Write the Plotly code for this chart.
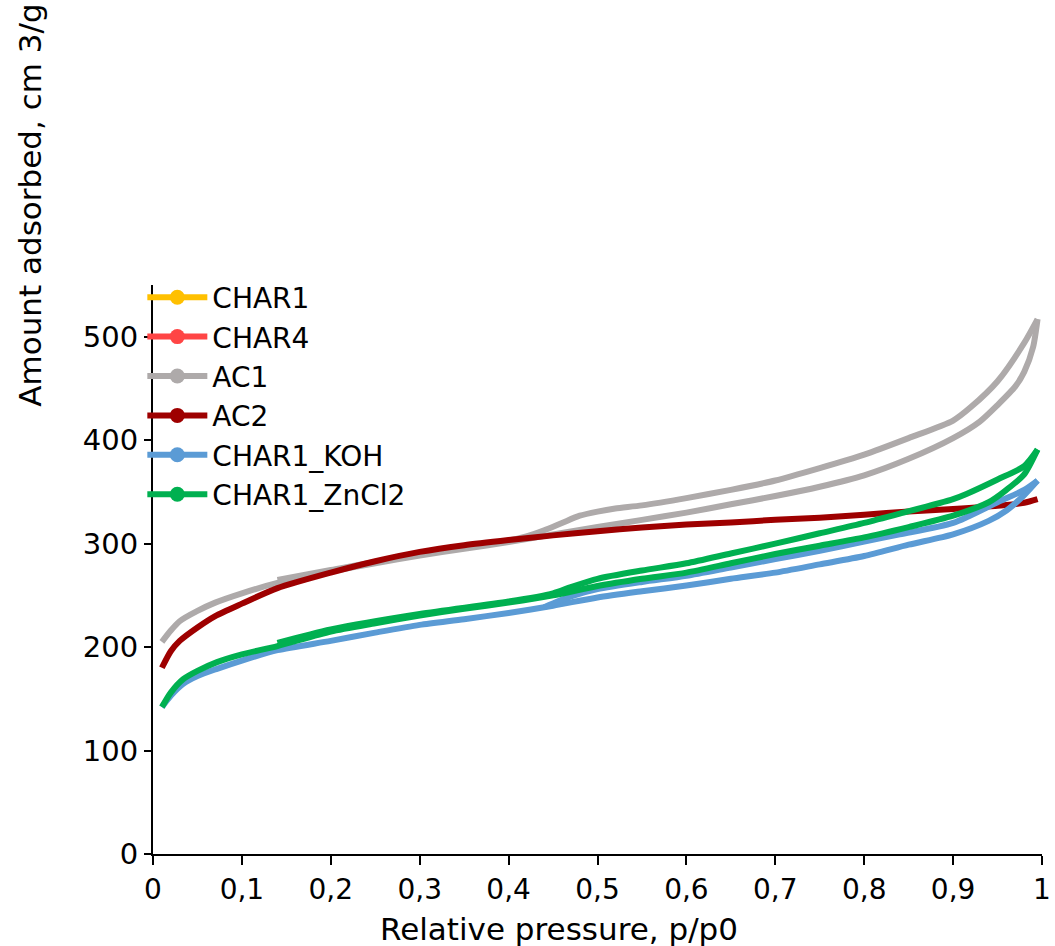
import plotly.graph_objects as go

# ---------------- data ----------------
series_names = ["CHAR1", "CHAR4", "AC1", "AC2", "CHAR1_KOH", "CHAR1_ZnCl2"]
series_colors = ["#FFC000", "#FF4545", "#AEAAAA", "#9E0000", "#5B9BD5", "#00B050"]

# AC1 adsorption / desorption
ac1_ads_x = [0.01, 0.02, 0.03, 0.05, 0.07, 0.10, 0.14, 0.20, 0.25, 0.30, 0.35, 0.40, 0.45, 0.50,
             0.55, 0.60, 0.65, 0.70, 0.75, 0.80, 0.85, 0.90, 0.93, 0.95, 0.97, 0.98, 0.99, 0.995]
ac1_ads_y = [205, 216, 225, 235, 243, 252, 262, 273, 281, 288.5, 295, 301.5, 309, 316,
             323, 330, 338, 346, 355, 366, 382, 402, 418, 434, 452, 466, 490, 517]
ac1_des_x = [0.995, 0.98, 0.95, 0.92, 0.90, 0.85, 0.80, 0.75, 0.70, 0.65, 0.60, 0.55, 0.52,
             0.50, 0.48, 0.46, 0.44, 0.42, 0.40, 0.30, 0.20, 0.14]
ac1_des_y = [517, 494, 457, 432, 419, 402, 386, 373, 361, 352, 344, 337, 334,
             331, 327, 320, 313, 307, 303, 290, 274.5, 265]

# AC2
ac2_x = [0.01, 0.02, 0.03, 0.05, 0.07, 0.10, 0.14, 0.20, 0.25, 0.30, 0.35, 0.40, 0.45, 0.50,
         0.55, 0.60, 0.65, 0.70, 0.75, 0.80, 0.85, 0.90, 0.95, 0.98, 0.995]
ac2_y = [180, 196, 206, 219, 230, 242, 257, 272, 283, 292, 298.5, 303.5, 308, 312,
         315.5, 318.5, 320.5, 323, 325, 328, 331, 333.5, 336.5, 339.5, 343]

# CHAR1_KOH
koh_ads_x = [0.01, 0.02, 0.034, 0.05, 0.072, 0.10, 0.14, 0.20, 0.25, 0.30, 0.35, 0.40, 0.45, 0.50,
             0.55, 0.60, 0.65, 0.70, 0.75, 0.80, 0.85, 0.90, 0.94, 0.96, 0.98, 0.995]
koh_ads_y = [142, 153, 164.5, 172, 179, 187, 197, 206, 214, 221.5, 227, 233, 240, 248,
             254, 259.5, 266, 272, 280, 288, 299, 309, 322, 332, 347, 361]
koh_des_x = [0.995, 0.98, 0.95, 0.90, 0.84, 0.80, 0.75, 0.70, 0.65, 0.60, 0.55, 0.50, 0.47, 0.44]
koh_des_y = [361, 352, 340, 320, 309, 302, 293, 285, 277, 269, 263, 256, 249, 238.5]

# CHAR1_ZnCl2
zn_ads_x = [0.01, 0.02, 0.034, 0.05, 0.072, 0.10, 0.14, 0.20, 0.25, 0.30, 0.35, 0.40, 0.45, 0.50,
            0.55, 0.60, 0.65, 0.70, 0.75, 0.80, 0.85, 0.90, 0.94, 0.96, 0.98, 0.995]
zn_ads_y = [142, 156, 169, 177, 185.5, 193, 201, 215, 223, 230.5, 237, 243, 250, 259,
            266, 272, 281, 290, 298, 306, 316, 327, 340, 352, 367, 391]
zn_des_x = [0.995, 0.98, 0.95, 0.915, 0.90, 0.84, 0.80, 0.75, 0.70, 0.65, 0.60, 0.55, 0.50,
            0.47, 0.45, 0.40, 0.30, 0.20, 0.14]
zn_des_y = [391, 375, 362, 348, 343, 329, 320, 310, 300, 290.5, 281, 274, 266,
            258, 252, 244, 232, 217, 204]

x_tick_vals = [0, 0.1, 0.2, 0.3, 0.4, 0.5, 0.6, 0.7, 0.8, 0.9, 1]
x_tick_text = ["0", "0,1", "0,2", "0,3", "0,4", "0,5", "0,6", "0,7", "0,8", "0,9", "1"]
y_tick_vals = [0, 100, 200, 300, 400, 500]
y_tick_text = ["0", "100", "200", "300", "400", "500"]

x_title = "Relative pressure, p/p0"
y_title = "Amount adsorbed, cm 3/g"

# ---------------- figure ----------------
FONT = "DejaVu Sans"
LW = 6
fig = go.Figure()

curves = {
    "AC1": [(ac1_ads_x, ac1_ads_y), (ac1_des_x, ac1_des_y)],
    "AC2": [(ac2_x, ac2_y)],
    "CHAR1_KOH": [(koh_ads_x, koh_ads_y), (koh_des_x, koh_des_y)],
    "CHAR1_ZnCl2": [(zn_ads_x, zn_ads_y), (zn_des_x, zn_des_y)],
}

for name, color in zip(series_names, series_colors):
    for xs, ys in curves.get(name, []):
        fig.add_trace(go.Scatter(x=xs, y=ys, mode="lines",
                                 line=dict(color=color, width=LW, shape="spline", smoothing=0.7),
                                 showlegend=False, legendgroup=name, hoverinfo="skip"))

# legend entries (line + circle marker)
for name, color in zip(series_names, series_colors):
    fig.add_trace(go.Scatter(x=[None], y=[None], mode="lines+markers", name=name,
                             legendgroup=name,
                             line=dict(color=color, width=LW),
                             marker=dict(color=color, size=15, symbol="circle")))

fig.update_layout(
    width=1055, height=946,
    margin=dict(l=153, r=13, t=285, b=92, autoexpand=False),
    paper_bgcolor="white", plot_bgcolor="white",
    font=dict(family=FONT, size=26, color="#000000"),
    showlegend=True,
    legend=dict(x=-0.012, y=1.022, xanchor="left", yanchor="top",
                bgcolor="rgba(0,0,0,0)", font=dict(size=28, family=FONT),
                traceorder="grouped", tracegroupgap=0, itemwidth=60),
    annotations=[
        dict(text=y_title, xref="paper", yref="paper", x=-0.138, y=1.14,
             xanchor="center", yanchor="middle", textangle=-90, showarrow=False,
             font=dict(size=31, family=FONT, color="#000000")),
        dict(text=x_title, xref="paper", yref="paper", x=0.457, y=-0.131,
             xanchor="center", yanchor="middle", showarrow=False,
             font=dict(size=31, family=FONT, color="#000000")),
    ],
)

fig.update_xaxes(range=[0, 1], tickvals=x_tick_vals, ticktext=x_tick_text, automargin=False,
                 showgrid=False, zeroline=False, showline=True, linecolor="#000000", linewidth=2,
                 ticks="outside", ticklen=9, tickwidth=2, tickcolor="#000000",
                 tickfont=dict(size=28, family=FONT))
fig.update_yaxes(range=[0, 550], tickvals=y_tick_vals, ticktext=y_tick_text, automargin=False,
                 showgrid=False, zeroline=False, showline=True, linecolor="#000000", linewidth=2,
                 ticks="outside", ticklen=7, tickwidth=2, tickcolor="#000000",
                 tickfont=dict(size=29, family=FONT))

fig.write_html("out.html")
